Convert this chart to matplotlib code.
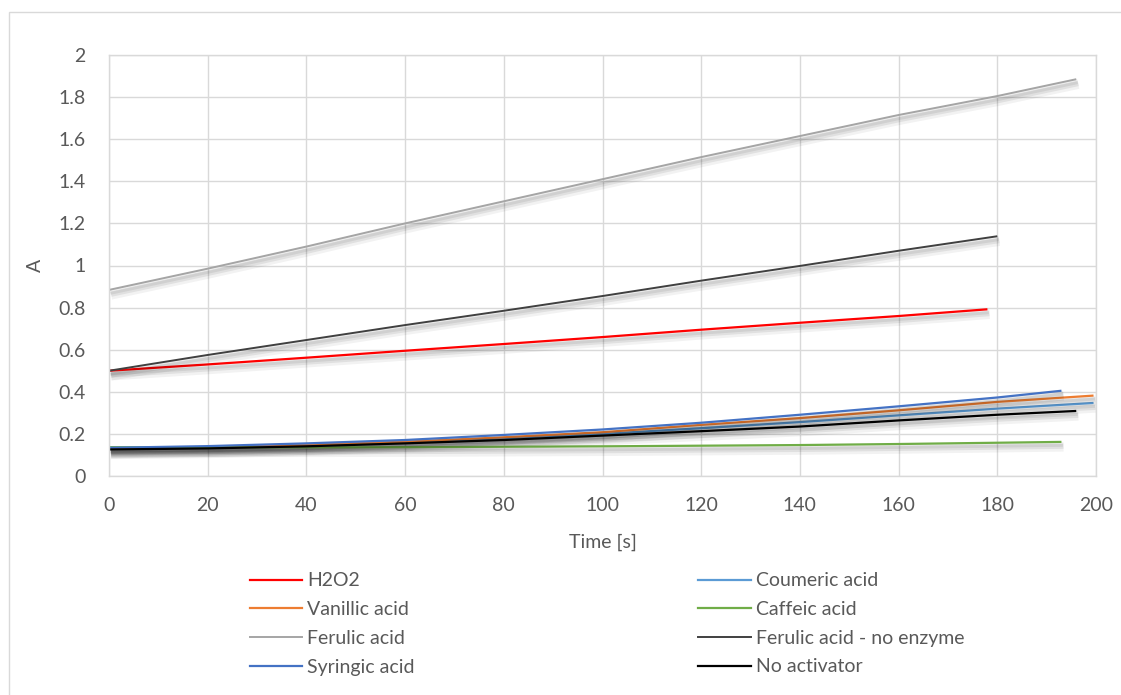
import matplotlib
matplotlib.use("Agg")
import matplotlib.pyplot as plt
import matplotlib.patheffects as pe
from matplotlib.lines import Line2D
from matplotlib.patches import Rectangle

plt.rcParams['font.family'] = ['Lato', 'DejaVu Sans']

# data (time in s, absorbance A)
t_h2o2 = [0, 20, 40, 60, 80, 100, 120, 140, 160, 178]
a_h2o2 = [0.50, 0.53, 0.562, 0.595, 0.627, 0.66, 0.695, 0.728, 0.76, 0.792]

t_coum = [0, 20, 40, 60, 80, 100, 120, 140, 160, 180, 199.5]
a_coum = [0.13, 0.137, 0.146, 0.16, 0.179, 0.20, 0.227, 0.256, 0.288, 0.32, 0.347]

t_van = [0, 20, 40, 60, 80, 100, 120, 140, 160, 180, 199.5]
a_van = [0.13, 0.136, 0.147, 0.163, 0.184, 0.208, 0.243, 0.275, 0.312, 0.352, 0.382]

t_caff = [0, 20, 40, 60, 80, 100, 120, 140, 160, 180, 193]
a_caff = [0.137, 0.136, 0.136, 0.137, 0.139, 0.141, 0.144, 0.147, 0.152, 0.158, 0.162]

t_fer = [0, 20, 40, 60, 80, 100, 120, 140, 160, 180, 196]
a_fer = [0.884, 0.985, 1.09, 1.20, 1.305, 1.41, 1.515, 1.615, 1.715, 1.805, 1.885]

t_fer_ne = [0, 20, 40, 60, 80, 100, 120, 140, 160, 180]
a_fer_ne = [0.50, 0.575, 0.646, 0.717, 0.785, 0.855, 0.928, 0.998, 1.07, 1.139]

t_syr = [0, 20, 40, 60, 80, 100, 120, 140, 160, 180, 193]
a_syr = [0.134, 0.142, 0.155, 0.171, 0.195, 0.221, 0.253, 0.291, 0.331, 0.373, 0.405]

t_noact = [0, 20, 40, 60, 80, 100, 120, 140, 160, 180, 196]
a_noact = [0.126, 0.131, 0.141, 0.155, 0.171, 0.192, 0.213, 0.235, 0.264, 0.291, 0.309]

series = [
    ("H2O2", t_h2o2, a_h2o2, "#FF0000", 1.6),
    ("Coumeric acid", t_coum, a_coum, "#5B9BD5", 1.6),
    ("Vanillic acid", t_van, a_van, "#ED7D31", 1.6),
    ("Caffeic acid", t_caff, a_caff, "#70AD47", 1.6),
    ("Ferulic acid", t_fer, a_fer, "#A5A5A5", 1.4),
    ("Ferulic acid - no enzyme", t_fer_ne, a_fer_ne, "#404040", 1.4),
    ("Syringic acid", t_syr, a_syr, "#4472C4", 1.6),
    ("No activator", t_noact, a_noact, "#000000", 1.6),
]

fig = plt.figure(figsize=(11.21, 6.95), dpi=100)
fig.patches.append(Rectangle((9 / 1121, -0.1), 1.2, (695 - 12) / 695 + 0.1,
                             transform=fig.transFigure, fill=False,
                             edgecolor="#D9D9D9", linewidth=1.0))

ax = fig.add_axes([109 / 1121, (695 - 476) / 695, (1096 - 109) / 1121, (476 - 55) / 695])

# soft drop shadow like Excel's line effect
shadow = [pe.SimpleLineShadow(offset=(1.5, -3.5), shadow_color="k", alpha=0.05, linewidth=7),
          pe.SimpleLineShadow(offset=(1.5, -3), shadow_color="k", alpha=0.07, linewidth=4),
          pe.SimpleLineShadow(offset=(1, -2.5), shadow_color="k", alpha=0.07, linewidth=2),
          pe.Normal()]

handles = {}
for name, t, a, col, lw in series:
    ax.plot(t, a, color=col, linewidth=lw, path_effects=shadow, solid_capstyle="butt")
    handles[name] = Line2D([], [], color=col, linewidth=lw)

ax.set_xlim(0, 200)
ax.set_ylim(0, 2)
ax.set_xticks(range(0, 201, 20))
ax.set_yticks([0, 0.2, 0.4, 0.6, 0.8, 1, 1.2, 1.4, 1.6, 1.8, 2])
ax.set_yticklabels(["0", "0.2", "0.4", "0.6", "0.8", "1", "1.2", "1.4", "1.6", "1.8", "2"])
ax.grid(True, color="#D9D9D9", linewidth=1.0)
ax.set_axisbelow(True)
for s in ax.spines.values():
    s.set_color("#D9D9D9")
    s.set_linewidth(1.0)
ax.tick_params(length=0, labelsize=14, colors="#595959")
ax.tick_params(axis="x", pad=15)
ax.tick_params(axis="y", pad=17)

ax.set_xlabel("Time [s]", fontsize=14, color="#595959", labelpad=14)
ax.set_ylabel("A", fontsize=14, color="#595959", labelpad=10)

# Excel orders the legend row by row; matplotlib fills columns first
order = ["H2O2", "Vanillic acid", "Ferulic acid", "Syringic acid",
         "Coumeric acid", "Caffeic acid", "Ferulic acid - no enzyme", "No activator"]
leg = fig.legend([handles[n] for n in order], order, ncol=2, frameon=False,
                 loc="upper left", bbox_to_anchor=(232 / 1121, 1 - 555 / 695),
                 fontsize=14, handlelength=2.7, handletextpad=0.26,
                 columnspacing=14.6, labelspacing=0.6)
for txt in leg.get_texts():
    txt.set_color("#595959")

fig.savefig("out.png", dpi=100)
